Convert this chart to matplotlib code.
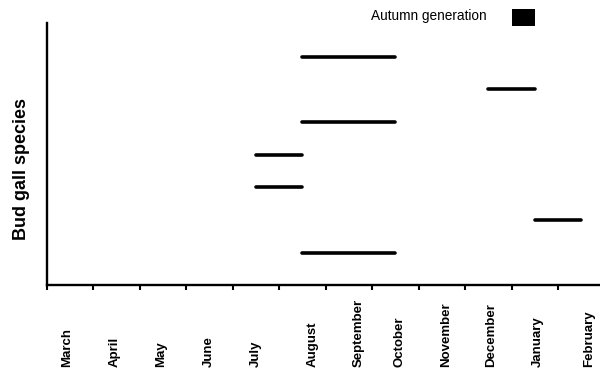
import matplotlib
matplotlib.use("Agg")
import matplotlib.pyplot as plt
import matplotlib.transforms as mtransforms
from matplotlib.patches import Rectangle

months = ["March", "April", "May", "June", "July", "August", "September",
          "October", "November", "December", "January", "February"]
# species rows (bottom to top), start/end in months since start of March
species_rows = [1, 2, 3, 4, 5, 6, 7]
gen_start = [5.5, 10.5, 4.5, 4.5, 5.5, 9.5, 5.5]
gen_end = [7.5, 11.5, 5.5, 5.5, 7.5, 10.5, 7.5]
legend_label = "Autumn generation"
y_label = "Bud gall species"

# per-label horizontal nudges (points) to mimic the original layout
label_nudge_pt = [-2, -1.5, -1.5, -0.7, 0, 7.5, 7, 3, 3, 2, 2, 5.5]

plt.rcParams['font.family'] = ['Liberation Sans', 'DejaVu Sans']

fig = plt.figure(figsize=(6.0, 3.72), dpi=100)
ax = fig.add_axes([0.0778, 0.233, 0.9222, 0.7044])

ax.hlines(species_rows, gen_start, gen_end, colors="black", linewidth=2.6,
          capstyle="round")

ax.set_xlim(0, 11.9)
ax.set_ylim(0, 8.02)
ax.spines['top'].set_visible(False)
ax.spines['right'].set_visible(False)
ax.spines['left'].set_linewidth(1.7)
ax.spines['bottom'].set_linewidth(1.7)
ax.set_yticks([])
ax.set_xticks(range(len(months)))
ax.set_xticklabels([])
ax.tick_params(axis='x', direction='out', length=3.6, width=1.5)

trans = mtransforms.blended_transform_factory(ax.transData, fig.transFigure)
for i, m in enumerate(months):
    t = trans + mtransforms.ScaledTranslation(label_nudge_pt[i] / 72, 0,
                                              fig.dpi_scale_trans)
    ax.text(i + 0.5, 0.0134, m, transform=t, rotation=90,
            ha='center', va='bottom', fontsize=9.5, fontweight='bold')

fig.text(0.035, 0.547, y_label, rotation=90, ha='center', va='center',
         fontsize=13, fontweight='bold')

fig.text(0.618, 1 - 16 / 372, legend_label, ha='left', va='center',
         fontsize=9.8)
fig.patches.append(Rectangle((512.3 / 600, 1 - 25.5 / 372), 22.7 / 600, 16.5 / 372,
                             transform=fig.transFigure, facecolor='black',
                             edgecolor='none'))

fig.savefig("out.png", dpi=100)
